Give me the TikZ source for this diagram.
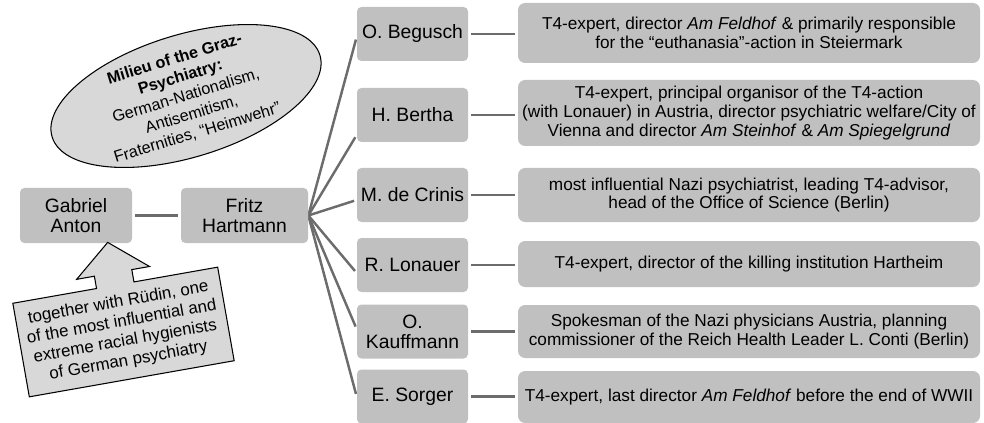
\documentclass[tikz,border=0pt]{standalone}
\usepackage{fontspec}
\setmainfont{Liberation Sans}
\usepackage{tikz}
\usetikzlibrary{shapes.geometric, positioning, backgrounds, calc}

\definecolor{boxgray}{RGB}{192,192,192}
\definecolor{palegray}{RGB}{216,216,216}
\definecolor{linegray}{RGB}{108,108,108}

\tikzset{
  namebox/.style={rectangle, fill=boxgray, rounded corners=2.5pt, minimum width=2.22cm, minimum height=1.08cm, inner sep=1pt, align=center, font=\fontsize{11}{11.3}\selectfont},
  infobox/.style={rectangle, fill=boxgray, rounded corners=4pt, minimum width=9.24cm, inner xsep=2pt, align=center, font=\fontsize{9.8}{10.6}\selectfont},
  link/.style={draw=linegray, line width=1.5pt, shorten <=1.5pt, shorten >=1.5pt},
  fanlink/.style={draw=linegray, line width=1.4pt, shorten >=1.5pt}
}

\begin{document}
\begin{tikzpicture}
  \useasboundingbox (0,0) rectangle (19.68,-8.46);

  % Teacher and head
  \node[namebox, minimum width=2.24cm, minimum height=1.1cm] (anton) at (1.52,-4.31) {Gabriel\\Anton};
  \node[namebox, minimum width=2.54cm, minimum height=1.1cm] (hartmann) at (4.89,-4.31) {Fritz\\Hartmann};

  % Milieu
  \node[ellipse, draw=black, fill=palegray, line width=0.6pt, minimum width=5.6cm, minimum height=2.45cm, inner sep=-6pt, rotate=17, align=center, font=\fontsize{9.2}{11}\selectfont] (milieu) at (3.72,-1.92) {\textbf{Milieu of the Graz-}\\\textbf{Psychiatry:}\\German-Nationalism,\\Antisemitism,\\Fraternities, “Heimwehr”};

  % Callout on Anton
  \begin{scope}[shift={(2.47,-6.64)}, rotate=10]
    \draw[fill=palegray, line width=0.6pt] (-2.08,-0.95) -- (2.08,-0.95) -- (2.08,0.95) -- (0.38,0.95) -- (0.38,1.2) -- (0.74,1.2) -- (0,1.82) -- (-0.74,1.2) -- (-0.38,1.2) -- (-0.38,0.95) -- (-2.08,0.95) -- cycle;
    \node[rotate=10, align=center, font=\fontsize{9.6}{11.2}\selectfont] (ruedin) at (0,0) {together with Rüdin, one\\of the most influential and\\extreme racial hygienists\\of German psychiatry};
  \end{scope}

  % Students
  \node[namebox] (begusch) at (8.25,-0.68) {O. Begusch};
  \node[namebox] (bertha) at (8.25,-2.30) {H. Bertha};
  \node[namebox] (crinis) at (8.25,-3.90) {M. de Crinis};
  \node[namebox] (lonauer) at (8.25,-5.30) {R. Lonauer};
  \node[namebox] (kauffmann) at (8.25,-6.63) {O.\\Kauffmann};
  \node[namebox] (sorger) at (8.25,-7.93) {E. Sorger};

  % Roles
  \node[infobox, minimum height=1.2cm] (begusch-info) at (14.98,-0.66) {T4-expert, director \textit{Am Feldhof} \& primarily responsible\\for the “euthanasia”-action in Steiermark};
  \node[infobox, minimum height=1.32cm] (bertha-info) at (14.98,-2.26) {T4-expert, principal organisor of the T4-action\\(with Lonauer) in Austria, director psychiatric welfare/City of\\Vienna and director \textit{Am Steinhof} \& \textit{Am Spiegelgrund}};
  \node[infobox, minimum height=1.08cm] (crinis-info) at (14.98,-3.90) {most influential Nazi psychiatrist, leading T4-advisor,\\head of the Office of Science (Berlin)};
  \node[infobox, minimum height=0.92cm] (lonauer-info) at (14.98,-5.28) {T4-expert, director of the killing institution Hartheim};
  \node[infobox, minimum height=1.06cm] (kauffmann-info) at (14.98,-6.63) {Spokesman of the Nazi physicians Austria, planning\\commissioner of the Reich Health Leader L. Conti (Berlin)};
  \node[infobox, minimum height=1.04cm] (sorger-info) at (14.98,-7.94) {T4-expert, last director \textit{Am Feldhof} before the end of WWII};

  % Lines
  \begin{scope}[on background layer]
    \draw[link] (anton) -- (hartmann);
    \foreach \who/\dy in {begusch/-0.06, bertha/-0.4, crinis/-0.1, lonauer/-0.16, kauffmann/0.05, sorger/0}
      \draw[fanlink] (hartmann.east) -- ([yshift=\dy cm]\who.west);
    \foreach \who in {begusch, bertha, crinis, lonauer, kauffmann, sorger}
      \draw[link] (\who.east) -- (\who.east -| \who-info.west);
  \end{scope}
\end{tikzpicture}
\end{document}
